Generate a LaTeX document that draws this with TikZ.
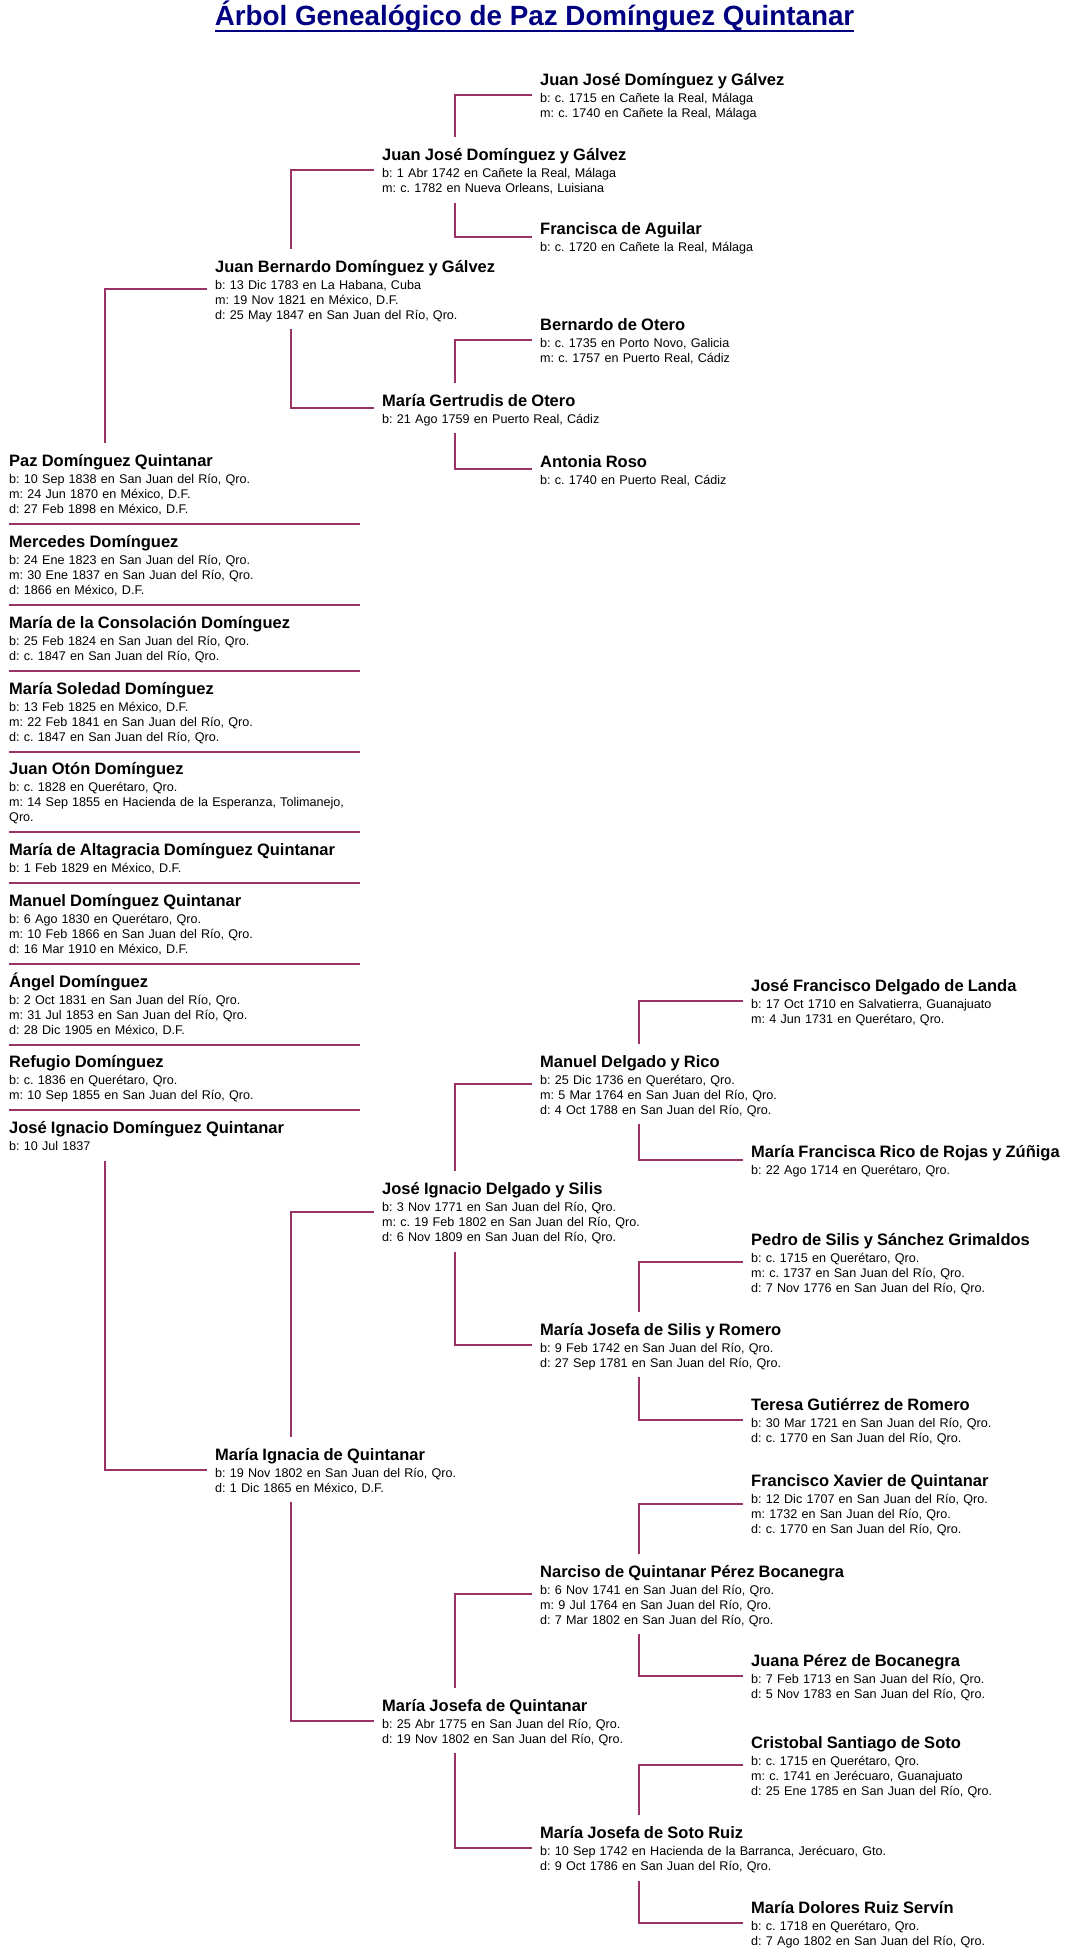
\documentclass[tikz,border=0pt]{standalone}
\usepackage{fontspec}
\setmainfont{Liberation Sans}
\usepackage{xcolor}
\definecolor{azul}{RGB}{0,0,128}
\definecolor{rama}{RGB}{153,51,102}
\frenchspacing
\newcommand{\nom}[1]{{\fontsize{16.5}{15}\selectfont\bfseries #1}\\[2pt]}

\begin{document}
\begin{tikzpicture}[
    x=1pt, y=-1pt,
    font=\fontsize{12.6}{15}\selectfont,
    persona/.style={anchor=west, align=left, text width=400pt, inner xsep=8pt, inner ysep=0pt,
        execute at begin node={\rule{0pt}{23.5pt}},
        execute at end node={\rule[-10pt]{0pt}{10pt}}},
    hijo/.style={persona, anchor=north west, text width=351pt, inner xsep=0pt},
    linea/.style={draw=rama, line width=2pt},
    titulo/.style={anchor=base, inner sep=0pt, text=azul, font=\fontsize{27.8}{30}\selectfont\bfseries}
]
    \useasboundingbox (0,0) rectangle (1069,1956);

    \node[titulo] (tit) at (534.5,26) {Árbol Genealógico de Paz Domínguez Quintanar};
    \draw[azul, line width=2pt] ([yshift=-5pt]tit.base west) -- ([yshift=-5pt]tit.base east);

    \coordinate (colA) at (105,0);
    \coordinate (colB) at (291,0);
    \coordinate (colC) at (454.5,0);
    \coordinate (colD) at (638.5,0);

    \node[persona] (jjdg1) at (532,95)   {\nom{Juan José Domínguez y Gálvez}b: c. 1715 en Cañete la Real, Málaga\\m: c. 1740 en Cañete la Real, Málaga};
    \node[persona] (jjdg2) at (374,170)  {\nom{Juan José Domínguez y Gálvez}b: 1 Abr 1742 en Cañete la Real, Málaga\\m: c. 1782 en Nueva Orleans, Luisiana};
    \node[persona] (fagu)  at (532,236.5) {\nom{Francisca de Aguilar}b: c. 1720 en Cañete la Real, Málaga};
    \node[persona] (jbdg)  at (207,289)  {\nom{Juan Bernardo Domínguez y Gálvez}b: 13 Dic 1783 en La Habana, Cuba\\m: 19 Nov 1821 en México, D.F.\\d: 25 May 1847 en San Juan del Río, Qro.};
    \node[persona] (bote)  at (532,340)  {\nom{Bernardo de Otero}b: c. 1735 en Porto Novo, Galicia\\m: c. 1757 en Puerto Real, Cádiz};
    \node[persona] (mgot)  at (374,408)  {\nom{María Gertrudis de Otero}b: 21 Ago 1759 en Puerto Real, Cádiz};
    \node[persona] (aros)  at (532,469)  {\nom{Antonia Roso}b: c. 1740 en Puerto Real, Cádiz};

    \node[hijo] (paz)  at (9,443)  {\nom{Paz Domínguez Quintanar}b: 10 Sep 1838 en San Juan del Río, Qro.\\m: 24 Jun 1870 en México, D.F.\\d: 27 Feb 1898 en México, D.F.};
    \node[hijo] (merc) at (9,524)  {\nom{Mercedes Domínguez}b: 24 Ene 1823 en San Juan del Río, Qro.\\m: 30 Ene 1837 en San Juan del Río, Qro.\\d: 1866 en México, D.F.};
    \node[hijo] (mcon) at (9,605)  {\nom{María de la Consolación Domínguez}b: 25 Feb 1824 en San Juan del Río, Qro.\\d: c. 1847 en San Juan del Río, Qro.};
    \node[hijo] (msol) at (9,671)  {\nom{María Soledad Domínguez}b: 13 Feb 1825 en México, D.F.\\m: 22 Feb 1841 en San Juan del Río, Qro.\\d: c. 1847 en San Juan del Río, Qro.};
    \node[hijo] (jotn) at (9,751)  {\nom{Juan Otón Domínguez}b: c. 1828 en Querétaro, Qro.\\m: 14 Sep 1855 en Hacienda de la Esperanza, Tolimanejo,\\Qro.};
    \node[hijo] (malt) at (9,832)  {\nom{María de Altagracia Domínguez Quintanar}b: 1 Feb 1829 en México, D.F.};
    \node[hijo] (mdqu) at (9,883)  {\nom{Manuel Domínguez Quintanar}b: 6 Ago 1830 en Querétaro, Qro.\\m: 10 Feb 1866 en San Juan del Río, Qro.\\d: 16 Mar 1910 en México, D.F.};
    \node[hijo] (adom) at (9,964)  {\nom{Ángel Domínguez}b: 2 Oct 1831 en San Juan del Río, Qro.\\m: 31 Jul 1853 en San Juan del Río, Qro.\\d: 28 Dic 1905 en México, D.F.};
    \node[hijo] (rdom) at (9,1044) {\nom{Refugio Domínguez}b: c. 1836 en Querétaro, Qro.\\m: 10 Sep 1855 en San Juan del Río, Qro.};
    \node[hijo] (jidq) at (9,1110) {\nom{José Ignacio Domínguez Quintanar}b: 10 Jul 1837};

    \node[persona] (jfdl) at (743,1001)   {\nom{José Francisco Delgado de Landa}b: 17 Oct 1710 en Salvatierra, Guanajuato\\m: 4 Jun 1731 en Querétaro, Qro.};
    \node[persona] (mdri) at (532,1084)   {\nom{Manuel Delgado y Rico}b: 25 Dic 1736 en Querétaro, Qro.\\m: 5 Mar 1764 en San Juan del Río, Qro.\\d: 4 Oct 1788 en San Juan del Río, Qro.};
    \node[persona] (mfrr) at (743,1159.5) {\nom{María Francisca Rico de Rojas y Zúñiga}b: 22 Ago 1714 en Querétaro, Qro.};
    \node[persona] (jids) at (374,1211.5) {\nom{José Ignacio Delgado y Silis}b: 3 Nov 1771 en San Juan del Río, Qro.\\m: c. 19 Feb 1802 en San Juan del Río, Qro.\\d: 6 Nov 1809 en San Juan del Río, Qro.};
    \node[persona] (pssg) at (743,1262)   {\nom{Pedro de Silis y Sánchez Grimaldos}b: c. 1715 en Querétaro, Qro.\\m: c. 1737 en San Juan del Río, Qro.\\d: 7 Nov 1776 en San Juan del Río, Qro.};
    \node[persona] (mjsr) at (532,1344.5) {\nom{María Josefa de Silis y Romero}b: 9 Feb 1742 en San Juan del Río, Qro.\\d: 27 Sep 1781 en San Juan del Río, Qro.};
    \node[persona] (tgro) at (743,1420)   {\nom{Teresa Gutiérrez de Romero}b: 30 Mar 1721 en San Juan del Río, Qro.\\d: c. 1770 en San Juan del Río, Qro.};
    \node[persona] (mign) at (207,1469.5) {\nom{María Ignacia de Quintanar}b: 19 Nov 1802 en San Juan del Río, Qro.\\d: 1 Dic 1865 en México, D.F.};
    \node[persona] (fxqu) at (743,1503.5) {\nom{Francisco Xavier de Quintanar}b: 12 Dic 1707 en San Juan del Río, Qro.\\m: 1732 en San Juan del Río, Qro.\\d: c. 1770 en San Juan del Río, Qro.};
    \node[persona] (nqpb) at (532,1594)   {\nom{Narciso de Quintanar Pérez Bocanegra}b: 6 Nov 1741 en San Juan del Río, Qro.\\m: 9 Jul 1764 en San Juan del Río, Qro.\\d: 7 Mar 1802 en San Juan del Río, Qro.};
    \node[persona] (jpbo) at (743,1676)   {\nom{Juana Pérez de Bocanegra}b: 7 Feb 1713 en San Juan del Río, Qro.\\d: 5 Nov 1783 en San Juan del Río, Qro.};
    \node[persona] (mjqu) at (374,1720.5) {\nom{María Josefa de Quintanar}b: 25 Abr 1775 en San Juan del Río, Qro.\\d: 19 Nov 1802 en San Juan del Río, Qro.};
    \node[persona] (csso) at (743,1765)   {\nom{Cristobal Santiago de Soto}b: c. 1715 en Querétaro, Qro.\\m: c. 1741 en Jerécuaro, Guanajuato\\d: 25 Ene 1785 en San Juan del Río, Qro.};
    \node[persona] (mjsz) at (532,1848)   {\nom{María Josefa de Soto Ruiz}b: 10 Sep 1742 en Hacienda de la Barranca, Jerécuaro, Gto.\\d: 9 Oct 1786 en San Juan del Río, Qro.};
    \node[persona] (mdrs) at (743,1922.5) {\nom{María Dolores Ruiz Servín}b: c. 1718 en Querétaro, Qro.\\d: 7 Ago 1802 en San Juan del Río, Qro.};

    \draw[linea] (paz.south west) -- (paz.south east);
    \draw[linea] (merc.south west) -- (merc.south east);
    \draw[linea] (mcon.south west) -- (mcon.south east);
    \draw[linea] (msol.south west) -- (msol.south east);
    \draw[linea] (jotn.south west) -- (jotn.south east);
    \draw[linea] (malt.south west) -- (malt.south east);
    \draw[linea] (mdqu.south west) -- (mdqu.south east);
    \draw[linea] (adom.south west) -- (adom.south east);
    \draw[linea] (rdom.south west) -- (rdom.south east);

    \draw[linea] (paz.north -| colA) |- (jbdg.west);
    \draw[linea] (jidq.south -| colA) |- (mign.west);
    \draw[linea] (jbdg.north -| colB) |- (jjdg2.west);
    \draw[linea] (jbdg.south -| colB) |- (mgot.west);
    \draw[linea] (jjdg2.north -| colC) |- (jjdg1.west);
    \draw[linea] (jjdg2.south -| colC) |- (fagu.west);
    \draw[linea] (mgot.north -| colC) |- (bote.west);
    \draw[linea] (mgot.south -| colC) |- (aros.west);
    \draw[linea] (mign.north -| colB) |- (jids.west);
    \draw[linea] (mign.south -| colB) |- (mjqu.west);
    \draw[linea] (jids.north -| colC) |- (mdri.west);
    \draw[linea] (jids.south -| colC) |- (mjsr.west);
    \draw[linea] (mdri.north -| colD) |- (jfdl.west);
    \draw[linea] (mdri.south -| colD) |- (mfrr.west);
    \draw[linea] (mjsr.north -| colD) |- (pssg.west);
    \draw[linea] (mjsr.south -| colD) |- (tgro.west);
    \draw[linea] (mjqu.north -| colC) |- (nqpb.west);
    \draw[linea] (mjqu.south -| colC) |- (mjsz.west);
    \draw[linea] (nqpb.north -| colD) |- (fxqu.west);
    \draw[linea] (nqpb.south -| colD) |- (jpbo.west);
    \draw[linea] (mjsz.north -| colD) |- (csso.west);
    \draw[linea] (mjsz.south -| colD) |- (mdrs.west);
\end{tikzpicture}
\end{document}
